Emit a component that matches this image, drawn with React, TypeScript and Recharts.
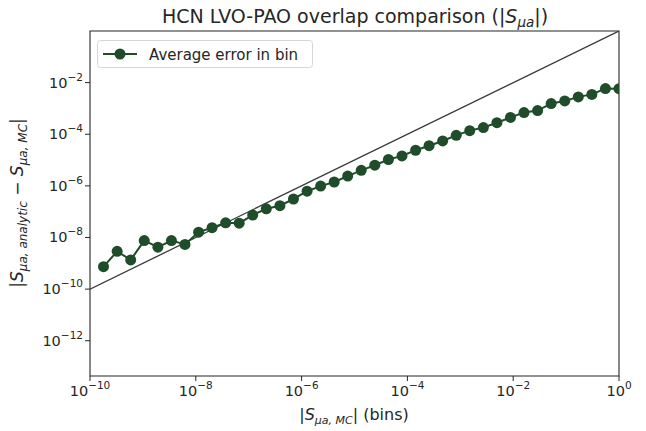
import React from 'react';
import { LineChart, Line, XAxis, YAxis, ReferenceLine, ReferenceArea } from 'recharts';

const binCenters = [
  1.80e-10, 3.26e-10, 5.88e-10, 1.06e-9, 1.92e-9, 3.46e-9, 6.24e-9, 1.13e-8, 2.03e-8, 3.67e-8,
  6.61e-8, 1.19e-7, 2.15e-7, 3.89e-7, 7.02e-7, 1.27e-6, 2.29e-6, 4.13e-6, 7.44e-6, 1.34e-5,
  2.42e-5, 4.38e-5, 7.90e-5, 1.43e-4, 2.57e-4, 4.64e-4, 8.38e-4, 1.51e-3, 2.73e-3, 4.92e-3,
  8.89e-3, 1.60e-2, 2.89e-2, 5.22e-2, 9.43e-2, 0.170, 0.307, 0.554, 1.0,
];

const avgError = [
  7.4e-10, 2.9e-9, 1.35e-9, 7.6e-9, 4.2e-9, 7.6e-9, 5.4e-9, 1.6e-8, 2.4e-8, 3.7e-8,
  3.6e-8, 7.4e-8, 1.29e-7, 1.7e-7, 3.1e-7, 6.2e-7, 9.8e-7, 1.41e-6, 2.4e-6, 4.0e-6,
  6.3e-6, 1.05e-5, 1.45e-5, 2.4e-5, 3.6e-5, 5.5e-5, 9.1e-5, 1.38e-4, 1.82e-4, 2.8e-4,
  4.5e-4, 6.9e-4, 8.3e-4, 1.55e-3, 1.95e-3, 2.8e-3, 3.5e-3, 5.9e-3, 5.8e-3,
];

const xTicks = [1e-10, 1e-8, 1e-6, 1e-4, 1e-2, 1];
const yTicks = [1e-12, 1e-10, 1e-8, 1e-6, 1e-4, 1e-2];
const xDomain = [1e-10, 1];
const yDomain = [4.3e-14, 1];

const titleText = 'HCN LVO-PAO overlap comparison (|';
const legendLabel = 'Average error in bin';

const data = binCenters.map((x, i) => ({ x, y: avgError[i] }));

const GREEN = '#1f4d29';
const TEXT = '#262626';
const FONT = 'DejaVu Sans';

function expLabel(v: number) {
  const e = Math.round(Math.log10(v));
  return e < 0 ? '\u2212' + String(-e) : String(e);
}

const XTick = (props: any) => {
  const { x, y, payload } = props;
  return (
    <text x={x} y={y + 13} textAnchor="middle" fontFamily={FONT} fontSize={14.5} fill={TEXT}>
      <tspan>10</tspan>
      <tspan dy={-7} fontSize={10.5}>{expLabel(payload.value)}</tspan>
    </text>
  );
};

const YTick = (props: any) => {
  const { x, y, payload } = props;
  return (
    <text x={x} y={y + 5} textAnchor="end" fontFamily={FONT} fontSize={14.5} fill={TEXT}>
      <tspan>10</tspan>
      <tspan dy={-7} fontSize={10.5}>{expLabel(payload.value)}</tspan>
    </text>
  );
};

export default function App() {
  const W = 646;
  const H = 431;
  return (
    <div style={{ position: 'absolute', left: 0, top: 0, width: W, height: H, background: '#fff' }}>
      <LineChart
        width={W}
        height={H}
        data={data}
        margin={{ top: 31, right: 27, bottom: 0, left: 0 }}
      >
        <XAxis
          dataKey="x"
          type="number"
          scale="log"
          domain={xDomain}
          ticks={xTicks}
          allowDataOverflow
          height={55}
          tick={<XTick />}
          tickSize={5}
          tickLine={{ stroke: TEXT, strokeWidth: 1 }}
          axisLine={false}
          interval={0}
        />
        <YAxis
          type="number"
          scale="log"
          domain={yDomain}
          ticks={yTicks}
          allowDataOverflow
          width={90}
          tick={<YTick />}
          tickSize={5}
          tickLine={{ stroke: TEXT, strokeWidth: 1 }}
          axisLine={false}
          interval={0}
        />
        <ReferenceLine
          segment={[{ x: 1e-10, y: 1e-10 }, { x: 1, y: 1 }]}
          stroke="#3a3a3a"
          strokeWidth={1.3}
          ifOverflow="hidden"
        />
        <Line
          dataKey="y"
          stroke={GREEN}
          strokeWidth={2}
          dot={{ r: 5.5, fill: GREEN, stroke: GREEN, strokeWidth: 0 }}
          isAnimationActive={false}
          legendType="none"
        />
        <ReferenceArea
          x1={xDomain[0]}
          x2={xDomain[1]}
          y1={yDomain[0]}
          y2={yDomain[1]}
          fill="none"
          fillOpacity={0}
          stroke={TEXT}
          strokeWidth={1.1}
          ifOverflow="visible"
        />
      </LineChart>
      <svg
        width={W}
        height={H}
        style={{ position: 'absolute', left: 0, top: 0, pointerEvents: 'none' }}
      >
        <text x={355} y={23} textAnchor="middle" fontFamily={FONT} fontSize={19} fill={TEXT}>
          <tspan>{titleText}</tspan>
          <tspan fontStyle="italic">S</tspan>
          <tspan fontStyle="italic" fontSize={13.5} dy={4}>μa</tspan>
          <tspan dy={-4}>|)</tspan>
        </text>
        <text x={354} y={420} textAnchor="middle" fontFamily={FONT} fontSize={16} fill={TEXT}>
          <tspan>|</tspan>
          <tspan fontStyle="italic">S</tspan>
          <tspan fontStyle="italic" fontSize={11} dy={4}>μa, MC</tspan>
          <tspan dy={-4}>| (bins)</tspan>
        </text>
        <text
          transform="translate(23,203) rotate(-90)"
          textAnchor="middle"
          fontFamily={FONT}
          fontSize={17}
          fill={TEXT}
        >
          <tspan>|</tspan>
          <tspan fontStyle="italic">S</tspan>
          <tspan fontStyle="italic" fontSize={12} dy={4}>μa, analytic</tspan>
          <tspan dy={-4}>{' \u2212 '}</tspan>
          <tspan fontStyle="italic">S</tspan>
          <tspan fontStyle="italic" fontSize={12} dy={4}>μa, MC</tspan>
          <tspan dy={-4}>|</tspan>
        </text>
        <rect x={97.5} y={40.5} width={215} height={27} rx={3} fill="#fff" fillOpacity={0.8} stroke="#d6d6d6" strokeWidth={1} />
        <line x1={103} y1={54} x2={137} y2={54} stroke={GREEN} strokeWidth={2} />
        <circle cx={120} cy={54} r={5.5} fill={GREEN} />
        <text x={149} y={59.5} fontFamily={FONT} fontSize={15} fill={TEXT}>{legendLabel}</text>
      </svg>
    </div>
  );
}
